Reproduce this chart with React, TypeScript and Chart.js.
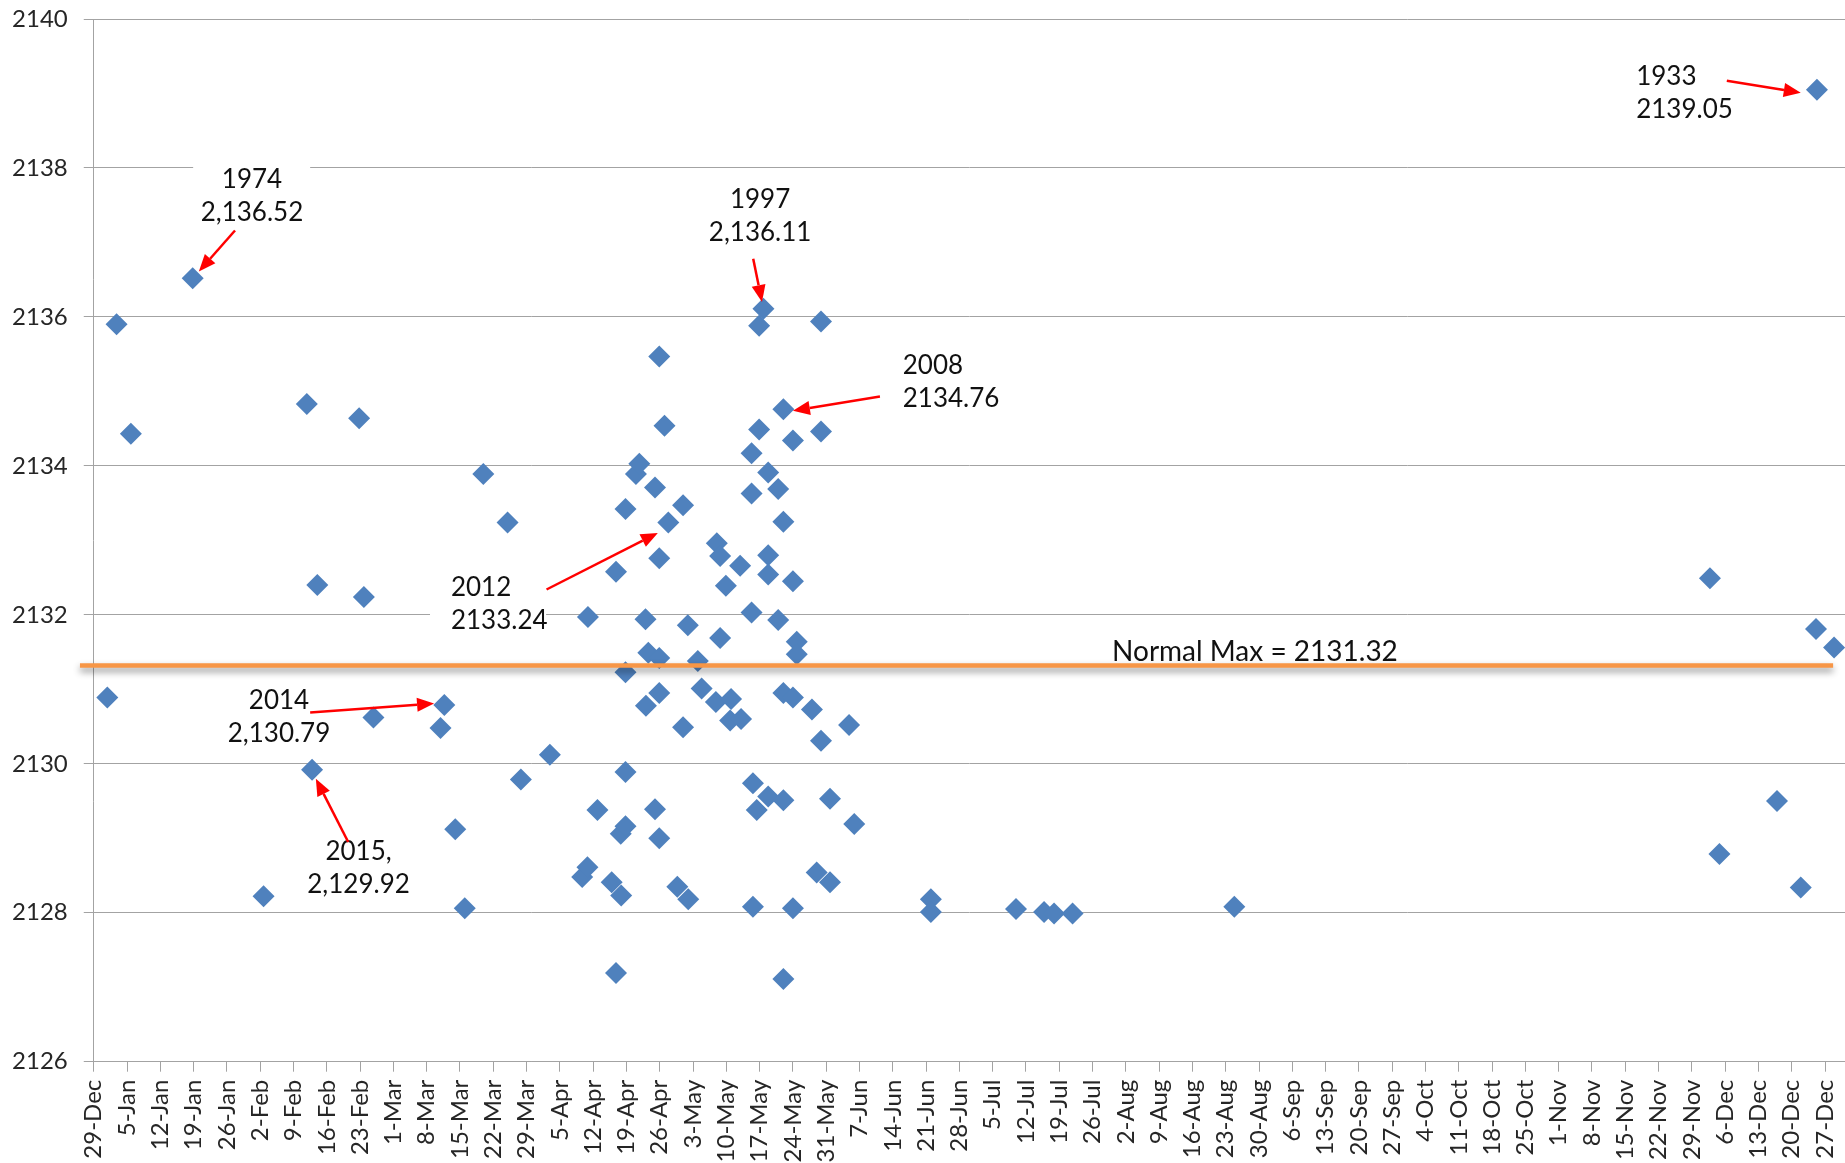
import React, { useEffect, useRef } from "react";
import { Chart, registerables } from "chart.js";

Chart.register(...registerables);

// ---------- data ----------
// x tick labels (weekly, starting 29-Dec)
const xTickLabels = [
  "29-Dec", "5-Jan", "12-Jan", "19-Jan", "26-Jan", "2-Feb", "9-Feb", "16-Feb", "23-Feb",
  "1-Mar", "8-Mar", "15-Mar", "22-Mar", "29-Mar", "5-Apr", "12-Apr", "19-Apr", "26-Apr",
  "3-May", "10-May", "17-May", "24-May", "31-May", "7-Jun", "14-Jun", "21-Jun", "28-Jun",
  "5-Jul", "12-Jul", "19-Jul", "26-Jul", "2-Aug", "9-Aug", "16-Aug", "23-Aug", "30-Aug",
  "6-Sep", "13-Sep", "20-Sep", "27-Sep", "4-Oct", "11-Oct", "18-Oct", "25-Oct", "1-Nov",
  "8-Nov", "15-Nov", "22-Nov", "29-Nov", "6-Dec", "13-Dec", "20-Dec", "27-Dec",
];

// day of peak, counted in days after 29-Dec
const peakDays = [
  2.85, 4.8, 7.8, 20.8, 35.7, 44.8, 45.9, 47.0, 55.8, 56.8, 58.8, 72.9, 73.7, 76.0, 78.0,
  81.9, 87.0, 89.8, 95.9,
  102.7, 103.8, 103.9, 105.9, 108.9, 109.8, 109.8, 110.8, 110.9, 111.8, 111.8, 111.8, 111.8,
  114.0, 114.7, 116.0, 116.1, 116.6, 118.0, 118.0, 118.9, 118.9, 118.9, 118.9, 118.9,
  120.0, 120.8, 122.7, 123.9, 123.9, 124.9, 125.0, 127.0, 127.8, 130.8, 131.0, 131.7, 131.7,
  132.9, 133.8, 134.0, 135.9, 136.1, 138.3, 138.3, 138.3, 138.6, 138.6, 139.4, 139.9, 139.9,
  140.8, 141.8, 141.8, 141.8, 141.8, 143.9, 143.9, 145.0, 145.0, 145.0, 145.0, 145.0,
  147.0, 147.0, 147.0, 147.0, 147.8, 147.8, 151.0, 152.0, 152.9, 152.9, 152.9, 154.8, 154.8,
  158.8, 159.9,
  176.0, 176.0, 193.9, 199.8, 201.9, 205.8, 239.8,
  339.8, 341.8, 353.9, 358.9, 362.1, 362.3, 365.9,
];

// peak level
const peakLevels = [
  2130.89, 2135.9, 2134.43, 2136.52, 2128.22, 2134.83, 2129.92, 2132.4, 2134.64, 2132.24, 2130.62, 2130.48, 2130.79, 2129.12, 2128.06,
  2133.89, 2133.24, 2129.79, 2130.12,
  2128.48, 2128.61, 2131.97, 2129.38, 2128.41, 2127.19, 2132.58, 2129.06, 2128.23, 2133.42, 2131.23, 2129.89, 2129.16,
  2133.89, 2134.03, 2131.94, 2130.78, 2131.49, 2133.71, 2129.39, 2135.47, 2132.76, 2131.42, 2130.95, 2129.0,
  2134.54, 2133.24, 2128.35, 2133.47, 2130.49, 2131.86, 2128.18, 2131.38, 2131.01, 2130.83, 2132.96, 2132.79, 2131.69,
  2132.39, 2130.58, 2130.87, 2132.66, 2130.6, 2134.17, 2133.63, 2132.03, 2129.74, 2128.08, 2129.38, 2135.88, 2134.49,
  2136.11, 2133.91, 2132.8, 2132.54, 2129.56, 2133.69, 2131.93, 2134.76, 2133.25, 2130.95, 2129.51, 2127.11,
  2134.34, 2132.45, 2130.89, 2128.06, 2131.64, 2131.47, 2130.73, 2128.54, 2135.94, 2134.46, 2130.31, 2129.53, 2128.41,
  2130.52, 2129.19,
  2128.18, 2128.01, 2128.05, 2128.01, 2127.99, 2127.99, 2128.08,
  2132.49, 2128.79, 2129.5, 2128.34, 2131.81, 2139.05, 2131.56,
];

const normalMax = 2131.32;
const normalMaxLabel = "Normal Max = 2131.32";
const normalMaxSpan = [-2.9, 365.7]; // days
const normalMaxLabelAt = [214.1, 2131.5];

const yMin = 2126;
const yMax = 2140;
const yStep = 2;
const xMax = 368.2;

// call-out notes: text lines, anchor (first line), alignment
const noteLines = [
  ["1974", "2,136.52"],
  ["1997", "2,136.11"],
  ["2008", "2134.76"],
  ["2012", "2133.24"],
  ["2014", "2,130.79"],
  ["2015,", "2,129.92"],
  ["1933", "2139.05"],
];
const noteAnchors = [
  [33.27, 2137.85],
  [140.1, 2137.57],
  [170.1, 2135.35],
  [75.1, 2132.36],
  [38.95, 2130.85],
  [55.67, 2128.82],
  [324.3, 2139.23],
];
const noteAlign = ["center", "center", "left", "left", "center", "center", "left"];
const arrowTails = [
  [29.7, 2137.16],
  [138.65, 2136.78],
  [165.3, 2134.93],
  [95.2, 2132.34],
  [45.5, 2130.69],
  [53.5, 2128.95],
  [343.35, 2139.17],
];
const arrowTips = [
  [22.1, 2136.61],
  [140.5, 2136.2],
  [147.0, 2134.74],
  [118.6, 2133.1],
  [71.55, 2130.81],
  [46.7, 2129.8],
  [358.9, 2139.01],
];
// white text boxes hiding the grid: [x1, x2, yTop, yBottom]
const noteBoxes = [
  [20.9, 45.5, 2138.3, 2137.0],
  null,
  null,
  [70.7, 95.1, 2132.6, 2131.6],
  null,
  null,
  null,
];

// ---------- styling ----------
const FONT = "Lato, 'Open Sans', sans-serif";
const TEXT = "#262626";
const GRID = "#a3a3a3";

function drawArrow(ctx: CanvasRenderingContext2D, x1: number, y1: number, x2: number, y2: number) {
  const ang = Math.atan2(y2 - y1, x2 - x1);
  const head = 17;
  const hw = 7;
  const bx = x2 - head * Math.cos(ang);
  const by = y2 - head * Math.sin(ang);
  ctx.strokeStyle = "#FF0000";
  ctx.lineWidth = 2.5;
  ctx.beginPath();
  ctx.moveTo(x1, y1);
  ctx.lineTo(bx, by);
  ctx.stroke();
  ctx.fillStyle = "#FF0000";
  ctx.beginPath();
  ctx.moveTo(x2, y2);
  ctx.lineTo(bx + hw * Math.sin(ang), by - hw * Math.cos(ang));
  ctx.lineTo(bx - hw * Math.sin(ang), by + hw * Math.cos(ang));
  ctx.closePath();
  ctx.fill();
}

const shadowPlugin = {
  id: "lineShadow",
  beforeDatasetDraw(chart: any, args: any) {
    if (args.index === 0) {
      const ctx = chart.ctx;
      ctx.save();
      ctx.shadowColor = "rgba(0,0,0,0.45)";
      ctx.shadowBlur = 7;
      ctx.shadowOffsetX = 0;
      ctx.shadowOffsetY = 4;
    }
  },
  afterDatasetDraw(chart: any, args: any) {
    if (args.index === 0) chart.ctx.restore();
  },
};

const notesPlugin = {
  id: "notes",
  afterDraw(chart: any) {
    const { ctx, scales } = chart;
    const xs = scales.x;
    const ys = scales.y;
    ctx.save();
    // boxes
    noteBoxes.forEach((b) => {
      if (!b) return;
      const x1 = xs.getPixelForValue(b[0]);
      const x2 = xs.getPixelForValue(b[1]);
      const y1 = ys.getPixelForValue(b[2]);
      const y2 = ys.getPixelForValue(b[3]);
      ctx.fillStyle = "#ffffff";
      ctx.fillRect(x1, y1, x2 - x1, y2 - y1);
    });
    // texts
    ctx.font = `26px ${FONT}`;
    ctx.fillStyle = "#111111";
    ctx.textBaseline = "middle";
    noteLines.forEach((lines, i) => {
      const x = xs.getPixelForValue(noteAnchors[i][0]);
      const y = ys.getPixelForValue(noteAnchors[i][1]);
      ctx.textAlign = noteAlign[i] as CanvasTextAlign;
      lines.forEach((t, k) => ctx.fillText(t, x, y + k * 33));
    });
    // arrows
    arrowTails.forEach((t, i) => {
      drawArrow(
        ctx,
        xs.getPixelForValue(t[0]),
        ys.getPixelForValue(t[1]),
        xs.getPixelForValue(arrowTips[i][0]),
        ys.getPixelForValue(arrowTips[i][1])
      );
    });
    // normal max label
    ctx.font = `28px ${FONT}`;
    ctx.fillStyle = "#111111";
    ctx.textAlign = "left";
    ctx.textBaseline = "middle";
    ctx.fillText(
      normalMaxLabel,
      xs.getPixelForValue(normalMaxLabelAt[0]),
      ys.getPixelForValue(normalMaxLabelAt[1])
    );
    ctx.restore();
  },
};

export default function App() {
  const ref = useRef<HTMLCanvasElement | null>(null);

  useEffect(() => {
    if (!ref.current) return;
    const chart = new Chart(ref.current, {
      type: "scatter",
      data: {
        datasets: [
          {
            label: "Normal Max",
            data: normalMaxSpan.map((x) => ({ x, y: normalMax })),
            showLine: true,
            borderColor: "#F79646",
            backgroundColor: "#F79646",
            borderWidth: 4.5,
            pointRadius: 0,
            clip: false as any,
            order: 0,
          },
          {
            label: "Peak level",
            data: peakDays.map((d, i) => ({ x: d, y: peakLevels[i] })),
            backgroundColor: "#4F81BD",
            borderColor: "#4F81BD",
            borderWidth: 0,
            pointStyle: "rectRot",
            pointRadius: 11,
            order: 1,
          },
        ],
      } as any,
      options: {
        animation: false,
        responsive: false,
        devicePixelRatio: 1,
        layout: { autoPadding: false, padding: { left: 0, top: 19, right: 0, bottom: 0 } },
        plugins: { legend: { display: false }, tooltip: { enabled: false } },
        scales: {
          x: {
            type: "linear",
            min: 0,
            max: xMax,
            afterBuildTicks: (s: any) => {
              s.ticks = xTickLabels.map((_, i) => ({ value: i * 7 }));
            },
            afterFit: (s: any) => {
              s.height = 1163 - 1061.7;
              s.paddingLeft = 0;
              s.paddingRight = 0;
            },
            ticks: {
              autoSkip: false,
              maxRotation: 90,
              minRotation: 90,
              padding: 8,
              color: TEXT,
              font: { family: FONT, size: 24 },
              callback: (v: any) => xTickLabels[Math.round(Number(v) / 7)] ?? "",
            },
            grid: { drawOnChartArea: false, drawTicks: true, tickLength: 10, color: GRID, lineWidth: 1 },
            border: { display: true, color: GRID, width: 1 },
          },
          y: {
            min: yMin,
            max: yMax,
            afterFit: (s: any) => {
              s.width = 93.75;
              s.paddingTop = 0;
              s.paddingBottom = 0;
            },
            ticks: {
              stepSize: yStep,
              padding: 16,
              color: TEXT,
              font: { family: FONT, size: 24 },
              callback: (v: any) => String(v),
            },
            grid: { color: GRID, lineWidth: 1, tickLength: 10 },
            border: { display: true, color: GRID, width: 1 },
          },
        } as any,
      },
      plugins: [shadowPlugin, notesPlugin],
    });
    return () => chart.destroy();
  }, []);

  return (
    <div style={{ position: "absolute", left: 0, top: 0, width: 1845, height: 1163, background: "#fff" }}>
      <canvas ref={ref} width={1845} height={1163} style={{ display: "block" }} />
    </div>
  );
}
